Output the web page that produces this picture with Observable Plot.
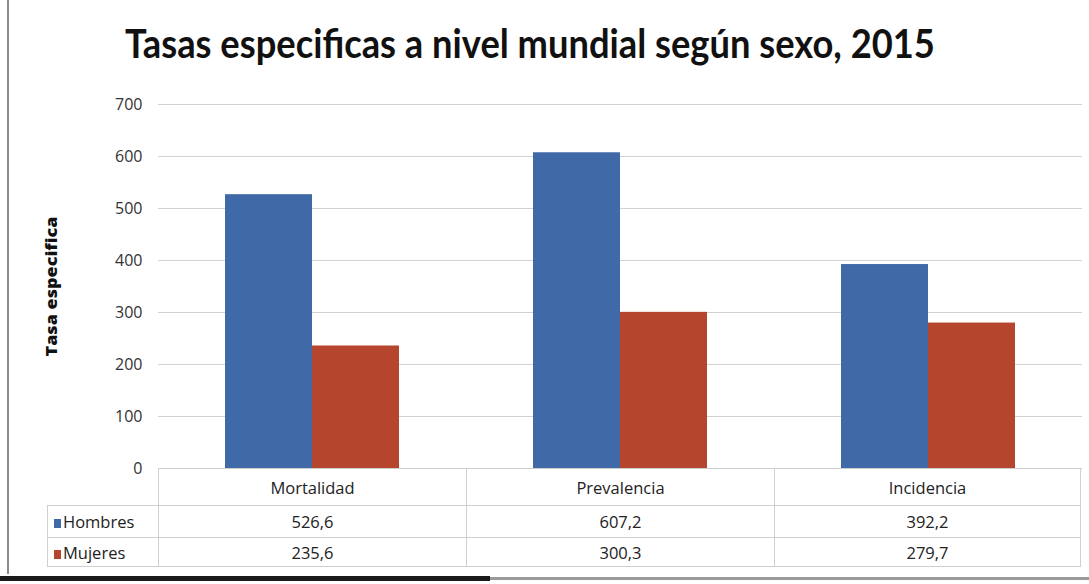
<!DOCTYPE html>
<html><head><meta charset="utf-8">
<script src="https://cdn.jsdelivr.net/npm/d3@7"></script>
<script src="https://cdn.jsdelivr.net/npm/@observablehq/plot@0.6"></script>
<style>
body{margin:0;background:#fff;}
#wrap{position:relative;width:1089px;height:584px;overflow:hidden;background:#fff;font-family:Lato,"Open Sans",sans-serif;}
#title{position:absolute;left:125px;top:20px;white-space:nowrap;font-weight:700;font-size:32px;color:#111;font-family:Lato,"Open Sans",sans-serif;transform-origin:0 50%;transform:scaleY(1.12);}
#chart{position:absolute;left:0;top:80px;}
#chart svg{overflow:visible;}
#chart g[aria-label="y-axis label"] text{font-weight:900;font-size:15px;fill:#111;}
#tbl{position:absolute;left:47px;top:468px;border-collapse:collapse;table-layout:fixed;font-family:"Open Sans",Lato,sans-serif;font-size:16.5px;color:#222;}
#tbl td{border:1px solid #cfcfcf;padding:0;text-align:center;}
#tbl tr.h td{height:36px;}
#tbl tr.r1 td{height:31px;}
#tbl tr.r2 td{height:28px;}
#tbl td.corner{border-top:none;border-left:none;border-bottom:1px solid #cfcfcf;}
#tbl td.key{text-align:left;padding-left:6px;}
#tbl span.sw{display:inline-block;width:7px;height:9px;margin-right:2px;vertical-align:0px;}
#scanL{position:absolute;left:7px;top:0;width:2px;height:574px;background:#8a8a8a;}
#scanB1{position:absolute;left:0;top:576px;width:490px;height:5px;background:#1a1a1a;}
#scanB2{position:absolute;left:490px;top:577px;width:599px;height:3px;background:#9a9a9a;}
</style>
</head><body>
<div id="wrap">
  <div id="scanL"></div>
  <div id="title"></div>
  <div id="chart"></div>
  <table id="tbl"></table>
  <div id="scanB1"></div><div id="scanB2"></div>
</div>
<script>
const titulo = "Tasas especificas a nivel mundial según sexo, 2015";
const etiquetaY = "Tasa especifica";
const categorias = ["Mortalidad", "Prevalencia", "Incidencia"];
const sexos = ["Hombres", "Mujeres"];
const hombres = [526.6, 607.2, 392.2];
const mujeres = [235.6, 300.3, 279.7];
const yTicks = [0, 100, 200, 300, 400, 500, 600, 700];
const colores = ["#4069a8", "#b5452d"];

const series = {Hombres: hombres, Mujeres: mujeres};
const data = categorias.flatMap((c, i) => sexos.map(s => ({categoria: c, sexo: s, valor: series[s][i]})));

// title, fitted to the reference width
const t = document.getElementById("title");
t.textContent = titulo;
const ctx = document.createElement("canvas").getContext("2d");
ctx.font = "700 32px Lato";
const w = ctx.measureText(titulo).width;
t.style.fontSize = (32 * 810 / w).toFixed(2) + "px";

const plot = Plot.plot({
  width: 1089,
  height: 389,
  marginTop: 24,
  marginBottom: 1,
  marginLeft: 158,
  marginRight: 7,
  style: {fontFamily: "'Open Sans', Lato, sans-serif", fontSize: "16px", color: "#333", background: "transparent"},
  fx: {domain: categorias, padding: 0, axis: null},
  x: {domain: sexos, paddingInner: 0, paddingOuter: 0.76, axis: null},
  y: {domain: [0, 700], axis: null},
  color: {domain: sexos, range: colores},
  marks: [
    Plot.ruleY(yTicks, {stroke: "#d2d2d2", strokeWidth: 1.2}),
    Plot.axisY(yTicks, {tickSize: 0, tickPadding: 16, line: true, stroke: "#c8c8c8", fill: "#333",
      label: etiquetaY, labelAnchor: "center", labelOffset: 112, labelArrow: "none", fontSize: 16}),
    Plot.barY(data, {fx: "categoria", x: "sexo", y: "valor", fill: "sexo"})
  ]
});
document.getElementById("chart").appendChild(plot);
// stretch the axis label to the reference's length
d3.select(plot).selectAll('g[aria-label="y-axis label"] text')
  .attr("textLength", 140).attr("lengthAdjust", "spacingAndGlyphs");

// data table under the chart
const fmt = v => v.toFixed(1).replace(".", ",");
const tbl = d3.select("#tbl");
const cg = tbl.append("colgroup");
cg.append("col").style("width", "111px");
categorias.forEach((c, i) => cg.append("col").style("width", i === 2 ? "306px" : "308px"));
const hr = tbl.append("tr").attr("class", "h");
hr.append("td").attr("class", "corner");
categorias.forEach(c => hr.append("td").text(c));
sexos.forEach((s, k) => {
  const tr = tbl.append("tr").attr("class", k === 0 ? "r1" : "r2");
  const td = tr.append("td").attr("class", "key");
  td.append("span").attr("class", "sw").style("background", colores[k]);
  td.append("span").text(s);
  series[s].forEach(v => tr.append("td").text(fmt(v)));
});
</script>
</body></html>
